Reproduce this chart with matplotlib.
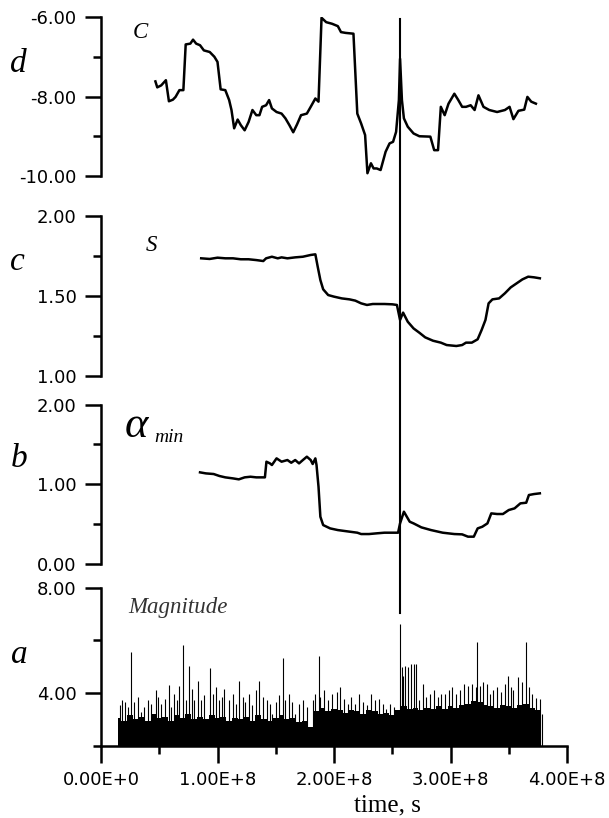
import matplotlib
matplotlib.use("Agg")
from matplotlib import pyplot as plt
from matplotlib.lines import Line2D
from matplotlib.ticker import MultipleLocator, FixedLocator, FixedFormatter
from matplotlib.transforms import blended_transform_factory
import numpy as np

plt.rcParams['axes.unicode_minus'] = False
plt.rcParams['font.family'] = ['DejaVu Sans']

# time axis values are in units of 1e8 s
SCALE = 1e8

# panel d : C
c_time = [0.467, 0.483, 0.517, 0.557, 0.583, 0.617, 0.640, 0.673, 0.707, 0.727,
          0.767, 0.790, 0.817, 0.850, 0.883, 0.933, 0.973, 1.000, 1.027, 1.067,
          1.100, 1.120, 1.143, 1.173, 1.200, 1.233, 1.267, 1.300, 1.333, 1.360,
          1.383, 1.417, 1.443, 1.467, 1.507, 1.550, 1.583, 1.617, 1.650, 1.683,
          1.717, 1.767, 1.800, 1.840, 1.867, 1.893, 1.933, 1.983, 2.033, 2.060,
          2.100, 2.167, 2.200, 2.233, 2.267, 2.287, 2.317, 2.340, 2.367, 2.400,
          2.443, 2.477, 2.507, 2.533, 2.557, 2.567, 2.583, 2.600, 2.633, 2.683,
          2.733, 2.827, 2.860, 2.893, 2.917, 2.950, 2.983, 3.033, 3.067, 3.100,
          3.133, 3.173, 3.207, 3.240, 3.283, 3.333, 3.400, 3.467, 3.507, 3.540,
          3.583, 3.633, 3.660, 3.693, 3.733]
c_value = [-7.62, -7.77, -7.72, -7.59, -8.12, -8.08, -8.01, -7.84, -7.84, -6.69,
           -6.67, -6.57, -6.67, -6.71, -6.84, -6.88, -7.00, -7.13, -7.82, -7.84,
           -8.09, -8.34, -8.80, -8.58, -8.72, -8.85, -8.64, -8.34, -8.47, -8.47,
           -8.26, -8.22, -8.09, -8.30, -8.39, -8.43, -8.55, -8.72, -8.90, -8.70,
           -8.47, -8.43, -8.26, -8.05, -8.13, -6.02, -6.13, -6.17, -6.23, -6.38,
           -6.40, -6.42, -8.43, -8.68, -8.97, -9.93, -9.68, -9.81, -9.81, -9.85,
           -9.39, -9.18, -9.14, -8.89, -8.09, -7.05, -8.09, -8.55, -8.76, -8.93,
           -9.00, -9.01, -9.35, -9.35, -8.26, -8.47, -8.18, -7.93, -8.09, -8.26,
           -8.26, -8.22, -8.34, -7.97, -8.26, -8.34, -8.39, -8.34, -8.26, -8.57,
           -8.36, -8.33, -8.01, -8.13, -8.18]

# panel c : S
s_time = [0.860, 0.933, 1.000, 1.067, 1.133, 1.200, 1.267, 1.333, 1.393, 1.417,
          1.467, 1.517, 1.550, 1.600, 1.667, 1.733, 1.800, 1.840, 1.860, 1.883,
          1.907, 1.950, 2.000, 2.067, 2.133, 2.183, 2.233, 2.283, 2.333, 2.383,
          2.433, 2.500, 2.540, 2.567, 2.593, 2.633, 2.683, 2.733, 2.783, 2.850,
          2.917, 2.967, 3.050, 3.100, 3.133, 3.183, 3.233, 3.267, 3.300, 3.327,
          3.360, 3.417, 3.467, 3.517, 3.567, 3.617, 3.667, 3.717, 3.767]
s_value = [1.735, 1.731, 1.739, 1.735, 1.735, 1.729, 1.729, 1.724, 1.718, 1.735,
           1.745, 1.735, 1.741, 1.735, 1.741, 1.745, 1.756, 1.760, 1.683, 1.599,
           1.541, 1.505, 1.495, 1.484, 1.478, 1.470, 1.453, 1.443, 1.449, 1.449,
           1.449, 1.447, 1.443, 1.349, 1.395, 1.338, 1.296, 1.269, 1.240, 1.219,
           1.207, 1.192, 1.186, 1.192, 1.207, 1.207, 1.228, 1.286, 1.349, 1.453,
           1.478, 1.484, 1.516, 1.553, 1.578, 1.603, 1.620, 1.616, 1.610]

# panel b : alpha_min
a_time = [0.850, 0.900, 0.967, 1.017, 1.067, 1.133, 1.183, 1.233, 1.283, 1.333,
          1.383, 1.407, 1.420, 1.450, 1.467, 1.507, 1.550, 1.600, 1.633, 1.667,
          1.700, 1.733, 1.767, 1.800, 1.817, 1.840, 1.850, 1.867, 1.883, 1.907,
          1.967, 2.033, 2.133, 2.200, 2.233, 2.300, 2.367, 2.433, 2.500, 2.550,
          2.567, 2.600, 2.650, 2.683, 2.750, 2.833, 2.933, 3.033, 3.100, 3.150,
          3.200, 3.233, 3.273, 3.317, 3.350, 3.400, 3.450, 3.500, 3.550, 3.600,
          3.650, 3.673, 3.717, 3.767]
a_value = [1.149, 1.136, 1.128, 1.103, 1.086, 1.073, 1.061, 1.086, 1.094, 1.086,
           1.086, 1.086, 1.283, 1.262, 1.241, 1.325, 1.283, 1.304, 1.270, 1.304,
           1.262, 1.304, 1.346, 1.304, 1.254, 1.325, 1.241, 0.969, 0.591, 0.486,
           0.444, 0.423, 0.403, 0.390, 0.373, 0.373, 0.382, 0.390, 0.390, 0.390,
           0.507, 0.654, 0.528, 0.507, 0.457, 0.423, 0.390, 0.373, 0.369, 0.340,
           0.340, 0.444, 0.465, 0.507, 0.633, 0.625, 0.625, 0.675, 0.696, 0.759,
           0.767, 0.864, 0.876, 0.885]

# panel a : magnitudes, dense background level and individual events
mag_bg_time = [0.15, 0.20, 0.25, 0.30, 0.35, 0.40, 0.45, 0.50, 0.55, 0.60,
               0.65, 0.70, 0.75, 0.80, 0.85, 0.90, 0.95, 1.00, 1.05, 1.10,
               1.15, 1.20, 1.25, 1.30, 1.35, 1.40, 1.45, 1.50, 1.55, 1.60,
               1.65, 1.70, 1.75, 1.80, 1.85, 1.90, 1.95, 2.00, 2.05, 2.10,
               2.15, 2.20, 2.25, 2.30, 2.35, 2.40, 2.45, 2.50, 2.55, 2.60,
               2.65, 2.70, 2.75, 2.80, 2.85, 2.90, 2.95, 3.00, 3.05, 3.10,
               3.15, 3.20, 3.25, 3.30, 3.35, 3.40, 3.45, 3.50, 3.55, 3.60,
               3.65, 3.70, 3.75, 3.78]
mag_bg_value = [3.05, 2.95, 3.15, 3.00, 3.10, 2.95, 3.20, 3.05, 3.10, 2.95,
                3.15, 3.05, 3.20, 3.00, 3.10, 3.00, 3.15, 3.05, 3.10, 2.95,
                3.05, 3.00, 3.10, 2.95, 3.15, 3.00, 2.95, 3.05, 3.15, 3.00,
                3.05, 2.90, 2.95, 2.70, 3.30, 3.45, 3.30, 3.40, 3.35, 3.25,
                3.35, 3.30, 3.20, 3.35, 3.30, 3.20, 3.25, 3.15, 3.35, 3.50,
                3.40, 3.45, 3.35, 3.45, 3.40, 3.50, 3.40, 3.50, 3.45, 3.55,
                3.60, 3.70, 3.65, 3.55, 3.50, 3.45, 3.55, 3.50, 3.45, 3.55,
                3.60, 3.45, 3.35, 3.20]
mag_time = [0.160, 0.183, 0.207, 0.233, 0.257, 0.283, 0.317, 0.340, 0.367, 0.400,
            0.433, 0.473, 0.493, 0.517, 0.550, 0.583, 0.600, 0.627, 0.650, 0.673,
            0.707, 0.733, 0.757, 0.783, 0.800, 0.833, 0.857, 0.883, 0.933, 0.960,
            0.983, 1.010, 1.040, 1.060, 1.100, 1.133, 1.160, 1.183, 1.217, 1.240,
            1.267, 1.300, 1.333, 1.360, 1.393, 1.427, 1.450, 1.467, 1.500, 1.527,
            1.560, 1.583, 1.617, 1.640, 1.667, 1.700, 1.733, 1.767, 1.817, 1.840,
            1.867, 1.883, 1.917, 1.950, 1.983, 2.027, 2.050, 2.083, 2.117, 2.150,
            2.183, 2.217, 2.250, 2.283, 2.317, 2.350, 2.383, 2.417, 2.450, 2.483,
            2.517, 2.565, 2.580, 2.590, 2.607, 2.633, 2.657, 2.683, 2.707, 2.733,
            2.767, 2.793, 2.827, 2.860, 2.893, 2.917, 2.950, 2.983, 3.017, 3.050,
            3.083, 3.117, 3.150, 3.183, 3.217, 3.227, 3.250, 3.283, 3.317, 3.340,
            3.367, 3.400, 3.433, 3.467, 3.493, 3.517, 3.540, 3.583, 3.617, 3.650,
            3.673, 3.700, 3.733, 3.767, 3.783]
mag_value = [3.53, 3.72, 3.65, 3.47, 5.54, 3.65, 3.84, 3.28, 3.47, 3.72,
             3.59, 4.12, 3.84, 3.59, 3.78, 4.32, 3.47, 3.97, 3.72, 4.25,
             5.83, 3.72, 5.04, 4.16, 3.72, 4.47, 3.72, 3.91, 4.95, 3.97,
             4.22, 3.72, 3.84, 4.16, 3.72, 3.97, 3.59, 4.47, 3.84, 3.65,
             3.97, 3.53, 4.10, 4.47, 3.84, 3.72, 3.59, 3.21, 3.65, 3.91,
             5.33, 3.72, 3.97, 3.65, 3.21, 3.59, 3.72, 3.47, 3.72, 3.97,
             5.42, 3.84, 4.10, 3.72, 3.97, 4.03, 4.22, 3.78, 3.59, 3.84,
             3.59, 3.97, 3.65, 3.53, 3.97, 3.72, 3.78, 3.59, 3.40, 3.59,
             3.47, 6.61, 5.00, 4.66, 5.04, 5.00, 5.10, 5.10, 5.10, 3.72,
             4.35, 3.84, 3.97, 4.10, 3.84, 3.97, 3.97, 4.10, 4.22, 3.97,
             4.10, 4.35, 4.25, 4.35, 4.22, 5.92, 4.25, 4.41, 4.35, 3.97,
             4.10, 4.22, 4.03, 4.35, 4.66, 4.22, 4.10, 4.60, 4.41, 5.92,
             4.22, 3.97, 3.82, 3.78, 3.21]

event_time = 2.567
x_ticks = [0, 1, 2, 3, 4]
x_tick_labels = ["0.00E+0", "1.00E+8", "2.00E+8", "3.00E+8", "4.00E+8"]

W, H = 609, 818
fig = plt.figure(figsize=(W / 100, H / 100), dpi=100)


def add_panel(top, bottom, left=101, right=567):
    # pixel box (from top of image) -> figure fraction
    return fig.add_axes([left / W, 1 - bottom / H, (right - left) / W, (bottom - top) / H])


def style_panel(ax, ylim, major, minor, show_x=False):
    ax.set_xlim(0, 4 * SCALE)
    ax.set_ylim(*ylim)
    for side in ['top', 'right', 'bottom']:
        ax.spines[side].set_visible(False)
    ax.spines['left'].set_linewidth(1.8)
    ax.yaxis.set_major_locator(MultipleLocator(major))
    ax.yaxis.set_minor_locator(MultipleLocator(minor))
    ax.yaxis.set_major_formatter(plt.FormatStrFormatter('%.2f'))
    ax.tick_params(axis='y', which='major', direction='out', length=11.5, width=1.8,
                   labelsize=13, pad=6)
    ax.tick_params(axis='y', which='minor', direction='out', length=6, width=1.8)
    ax.patch.set_visible(False)
    if show_x:
        ax.spines['bottom'].set_visible(True)
        ax.spines['bottom'].set_linewidth(1.8)
        ax.xaxis.set_major_locator(FixedLocator([t * SCALE for t in x_ticks]))
        ax.xaxis.set_major_formatter(FixedFormatter(x_tick_labels))
        ax.xaxis.set_minor_locator(MultipleLocator(0.5 * SCALE))
        ax.tick_params(axis='x', which='major', direction='out', length=12, width=1.8,
                       labelsize=13, pad=6)
        ax.tick_params(axis='x', which='minor', direction='out', length=6, width=1.8)
    else:
        ax.set_xticks([])


ax_d = add_panel(17, 176)
ax_c = add_panel(216, 375.7)
ax_b = add_panel(404.7, 563.7)
ax_a = add_panel(587.7, 745.7)

style_panel(ax_d, (-10, -6), 2, 1)
style_panel(ax_c, (1, 2), 0.5, 0.25)
style_panel(ax_b, (0, 2), 1, 0.5)
style_panel(ax_a, (2, 8), 4, 2, show_x=True)

ax_d.plot(np.array(c_time) * SCALE, c_value, color='black', lw=1.8)
ax_c.plot(np.array(s_time) * SCALE, s_value, color='black', lw=1.8)
ax_b.plot(np.array(a_time) * SCALE, a_value, color='black', lw=1.8)

ax_a.fill_between(np.array(mag_bg_time) * SCALE, 2, mag_bg_value, step='mid',
                  color='black', lw=0)
ax_a.vlines(np.array(mag_time) * SCALE, 2, mag_value, color='black', lw=0.8)

# vertical marker through all panels
trans = blended_transform_factory(ax_a.transData, fig.transFigure)
fig.add_artist(Line2D([event_time * SCALE, event_time * SCALE], [1 - 19 / H, 1 - 613 / H],
                      transform=trans, color='black', lw=1.5))

serif = 'Liberation Serif'


def label(x, y, s, size, **kw):
    fig.text(x / W, 1 - y / H, s, fontsize=size, family=serif, **kw)


# panel letters
label(18, 64, 'd', 24, style='italic', ha='center', va='center')
label(17, 262, 'c', 24, style='italic', ha='center', va='center')
label(19, 459, 'b', 24, style='italic', ha='center', va='center')
label(19, 655, 'a', 24, style='italic', ha='center', va='center')

# panel titles
label(140, 32, 'C', 16.5, style='italic', ha='center', va='center')
label(151, 245, 'S', 16.5, style='italic', ha='center', va='center')
label(125, 437, '\u03b1', 32, style='italic', ha='left', va='baseline')
label(154, 442, 'min', 14, style='italic', ha='left', va='baseline')
label(178, 607, 'Magnitude', 16.5, style='italic', ha='center', va='center', color='#333333')

label(387, 811, 'time, s', 18, ha='center', va='baseline')

fig.savefig('out.png', dpi=100)
